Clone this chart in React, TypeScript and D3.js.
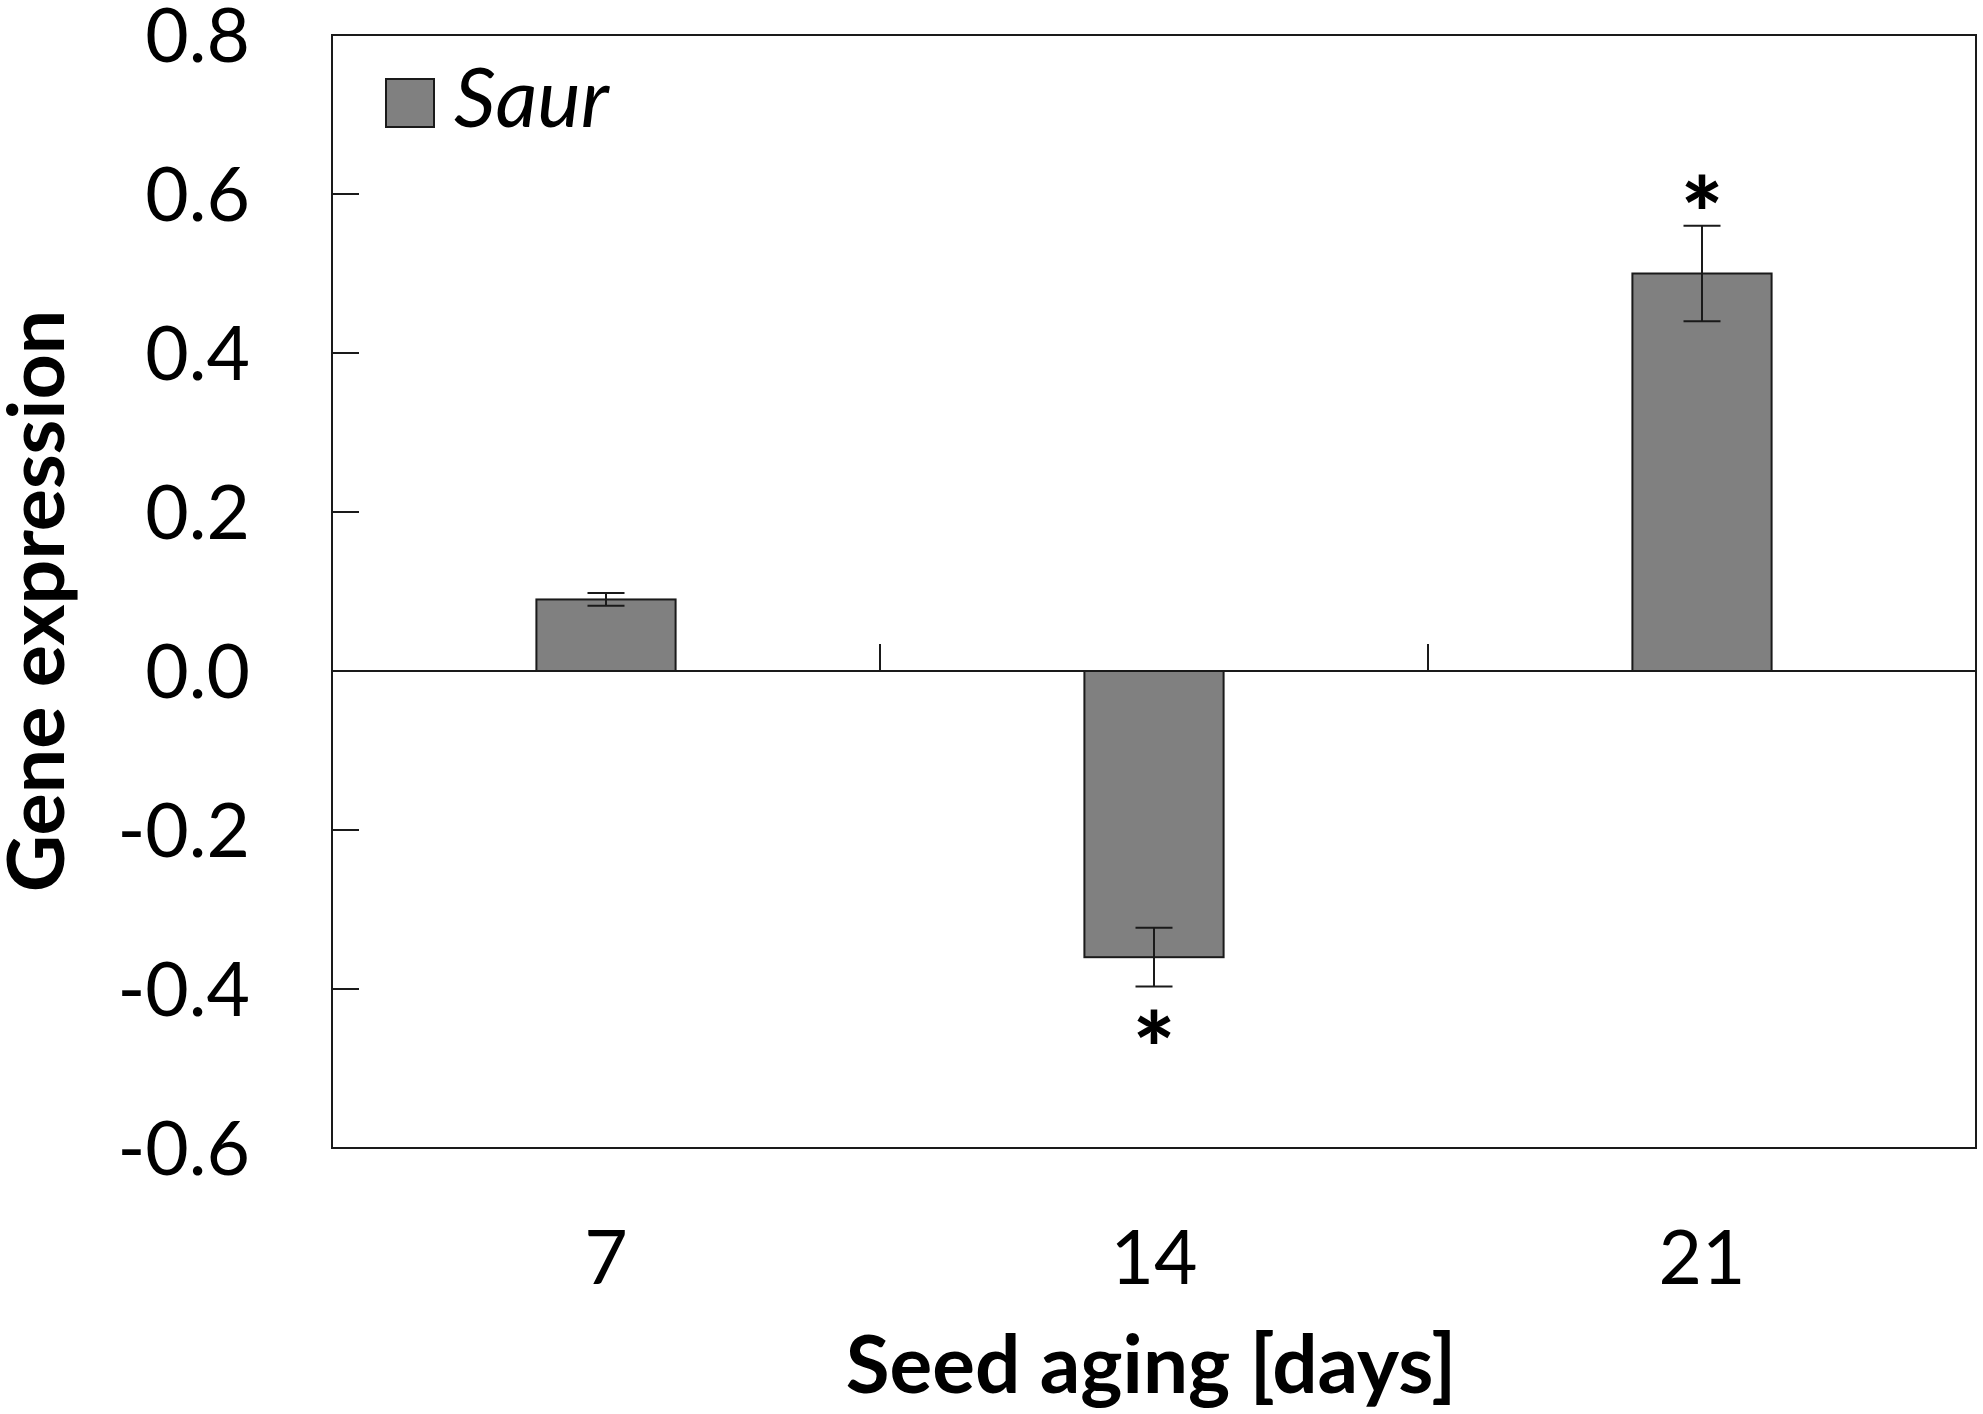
import React from "react";
import * as d3 from "d3";

const categories = ["7", "14", "21"];
const values = [0.09, -0.36, 0.5];
const errors = [0.008, 0.037, 0.06];
const significant = [false, true, true];
const yTicks = [-0.6, -0.4, -0.2, 0.0, 0.2, 0.4, 0.6, 0.8];
const legendLabel = "Saur";
const xTitle = "Seed aging [days]";
const yTitle = "Gene expression";

const W = 1983;
const H = 1414;
const FONT = "Lato, 'Open Sans', sans-serif";

export default function App() {
  const left = 332, right = 1976, top = 35, bottom = 1148;
  const y = d3.scaleLinear().domain([-0.6, 0.8]).range([bottom, top]);
  const x = d3.scaleBand().domain(categories).range([left, right]).padding(0);
  const bw = x.bandwidth() * 0.254;
  const y0 = y(0);
  const capW = 37;
  const stroke = "#1a1a1a";

  return (
    <svg width={W} height={H} style={{ position: "absolute", left: 0, top: 0, background: "#fff" }}
      xmlns="http://www.w3.org/2000/svg">
      <rect x={0} y={0} width={W} height={H} fill="#fff" />
      {/* frame */}
      <rect x={left} y={top} width={right - left} height={bottom - top} fill="none" stroke={stroke} strokeWidth={2} />
      {/* y ticks */}
      {yTicks.map((t) => (
        <g key={t}>
          <line x1={left} x2={left + 27} y1={y(t)} y2={y(t)} stroke={stroke} strokeWidth={2} />
          <text x={250} y={y(t)} dy="0.36em" textAnchor="end" fontFamily={FONT} fontSize={75} fill="#000">
            {t.toFixed(1)}
          </text>
        </g>
      ))}
      {/* zero line */}
      <line x1={left} x2={right} y1={y0} y2={y0} stroke={stroke} strokeWidth={2} />
      {/* category separators */}
      {categories.slice(1).map((c) => (
        <line key={c} x1={x(c)} x2={x(c)} y1={y0} y2={y0 - 27} stroke={stroke} strokeWidth={2} />
      ))}
      {/* bars */}
      {categories.map((c, i) => {
        const cx = (x(c) as number) + x.bandwidth() / 2;
        const v = values[i];
        const e = errors[i];
        const yv = y(v);
        const yHi = y(v + e);
        const yLo = y(v - e);
        const starY = v >= 0 ? yHi - 36 : yLo + 38;
        return (
          <g key={c}>
            <rect x={cx - bw / 2} y={Math.min(yv, y0)} width={bw} height={Math.abs(yv - y0)}
              fill="#808080" stroke={stroke} strokeWidth={2} />
            <line x1={cx} x2={cx} y1={yHi} y2={yLo} stroke={stroke} strokeWidth={2} />
            <line x1={cx - capW / 2} x2={cx + capW / 2} y1={yHi} y2={yHi} stroke={stroke} strokeWidth={2} />
            <line x1={cx - capW / 2} x2={cx + capW / 2} y1={yLo} y2={yLo} stroke={stroke} strokeWidth={2} />
            {significant[i] && (
              <text x={cx} y={starY} dy="0.6em" textAnchor="middle" fontFamily={FONT} fontWeight={900}
                fontSize={100} fill="#000">*</text>
            )}
            <text x={cx} y={1284} textAnchor="middle" fontFamily={FONT} fontSize={75} fill="#000">{c}</text>
          </g>
        );
      })}
      {/* legend */}
      <rect x={386} y={79} width={48} height={48} fill="#808080" stroke={stroke} strokeWidth={2} />
      <text x={454} y={127} fontFamily={FONT} fontStyle="italic" fontSize={82} fill="#000">{legendLabel}</text>
      {/* axis titles */}
      <text x={1151} y={1393} textAnchor="middle" fontFamily={FONT} fontWeight={700} fontSize={80} fill="#000">{xTitle}</text>
      <text transform={`translate(64, 601) rotate(-90)`} textAnchor="middle" fontFamily={FONT} fontWeight={700}
        fontSize={79} fill="#000">{yTitle}</text>
    </svg>
  );
}
